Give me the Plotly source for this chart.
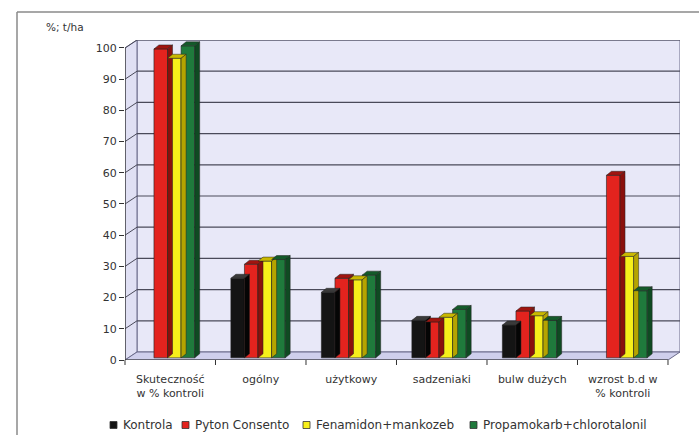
import plotly.graph_objects as go

categories = ["Skuteczność<br>w % kontroli", "ogólny", "użytkowy", "sadzeniaki", "bulw dużych", "wzrost b.d w<br>% kontroli"]
series_names = ["Kontrola", "Pyton Consento", "Fenamidon+mankozeb", "Propamokarb+chlorotalonil"]
kontrola = [None, 25.5, 21, 12, 10.5, None]
pyton = [99, 30, 25.5, 11.5, 15, 58.5]
fenamidon = [96, 31, 25, 13, 13.5, 32.5]
propamokarb = [100, 31.5, 26.5, 15.5, 12, 21.5]
y_ticks = [0, 10, 20, 30, 40, 50, 60, 70, 80, 90, 100]

series = [kontrola, pyton, fenamidon, propamokarb]
front_colors = ["#141414", "#e3231e", "#f7ef1a", "#1f7a3c"]
top_colors = ["#3a3a3a", "#a0140f", "#c9b800", "#145a2a"]
side_colors = ["#050505", "#8a100c", "#b5a400", "#0f4a22"]

FONT = "DejaVu Sans, Verdana, sans-serif"

# geometry (styling)
W, H = 699, 435
L, R, T, B = 125, 19, 40, 75
PW = W - L - R
xspan = 6.1326
px_per_unit_x = PW / xspan
plot_h = H - T - B
ymax = 102.56
px_per_unit_y = plot_h / ymax
wall_dx = 12 / px_per_unit_x
wall_dy = 8 / px_per_unit_y
bar_dx = 5 / px_per_unit_x
bar_dy = 4 / px_per_unit_y
bar_w = 0.15
first_off = -0.33
base = 0.7
x0, x1 = -0.5, 5.5


def px2paper_x(px):
    return (px - L) / PW


def py2paper_y(py):
    return (H - B - py) / plot_h


fig = go.Figure()
xs = list(range(len(categories)))
shapes = []
annotations = []

lav = "#e8e8f8"
shapes.append(dict(type="rect", xref="x", yref="y", x0=x0 + wall_dx, x1=x1 + wall_dx, y0=wall_dy, y1=100 + wall_dy,
                   fillcolor=lav, line=dict(color="#6a6a8a", width=1), layer="below"))
shapes.append(dict(type="path", xref="x", yref="y",
                   path=f"M {x0},0 L {x0},100 L {x0+wall_dx},{100+wall_dy} L {x0+wall_dx},{wall_dy} Z",
                   fillcolor="#e0e0f4", line=dict(color="#6a6a8a", width=1), layer="below"))
shapes.append(dict(type="path", xref="x", yref="y",
                   path=f"M {x0},0 L {x1},0 L {x1+wall_dx},{wall_dy} L {x0+wall_dx},{wall_dy} Z",
                   fillcolor="#cfcfec", line=dict(color="#6a6a8a", width=1), layer="below"))
for v in y_ticks[1:]:
    shapes.append(dict(type="line", xref="x", yref="y", x0=x0 + wall_dx, x1=x1 + wall_dx, y0=v + wall_dy, y1=v + wall_dy,
                       line=dict(color="#4a4a5a", width=1.2), layer="below"))
    shapes.append(dict(type="line", xref="x", yref="y", x0=x0, x1=x0 + wall_dx, y0=v, y1=v + wall_dy,
                       line=dict(color="#4a4a5a", width=1), layer="below"))
shapes.append(dict(type="line", xref="x", yref="y", x0=x0, x1=x0, y0=0, y1=100, line=dict(color="#333", width=1.2)))
shapes.append(dict(type="line", xref="x", yref="y", x0=x0, x1=x1, y0=0, y1=0, line=dict(color="#333", width=1.2)))
for k in range(len(categories) + 1):
    xv = k / xspan
    shapes.append(dict(type="line", xref="paper", yref="paper", x0=xv, x1=xv, y0=0, y1=-5 / plot_h,
                       line=dict(color="#333", width=1)))

for k, (name, vals) in enumerate(zip(series_names, series)):
    off = first_off + k * bar_w
    fig.add_trace(go.Bar(
        name=name, x=xs, y=vals, base=base, offset=off, width=bar_w, showlegend=False,
        marker=dict(color=front_colors[k], line=dict(color="#222", width=0.6)),
    ))
    for i, v in enumerate(vals):
        if v is None:
            continue
        bx0 = i + off
        bx1 = bx0 + bar_w
        top = base + v
        shapes.append(dict(type="path", xref="x", yref="y",
                           path=f"M {bx0},{top} L {bx1},{top} L {bx1+bar_dx},{top+bar_dy} L {bx0+bar_dx},{top+bar_dy} Z",
                           fillcolor=top_colors[k], line=dict(color="#222", width=0.5)))
        shapes.append(dict(type="path", xref="x", yref="y",
                           path=f"M {bx1},{base} L {bx1+bar_dx},{base+bar_dy} L {bx1+bar_dx},{top+bar_dy} L {bx1},{top} Z",
                           fillcolor=side_colors[k], line=dict(color="#222", width=0.5)))

# custom legend
leg_y = 425
leg_sq_x = [110, 182, 303, 470]
for k, name in enumerate(series_names):
    sx = leg_sq_x[k]
    shapes.append(dict(type="rect", xref="paper", yref="paper",
                       x0=px2paper_x(sx), x1=px2paper_x(sx + 7), y0=py2paper_y(leg_y + 3.5), y1=py2paper_y(leg_y - 3.5),
                       fillcolor=front_colors[k], line=dict(color="#333", width=0.8)))
    annotations.append(dict(text=name, xref="paper", yref="paper", x=px2paper_x(sx + 11), y=py2paper_y(leg_y),
                            xanchor="left", yanchor="middle", showarrow=False, font=dict(size=12, color="#333")))

# outer frame
fy_top = py2paper_y(12)
fx_left = px2paper_x(17)
shapes.append(dict(type="line", xref="paper", yref="paper", x0=fx_left, x1=1.05, y0=fy_top, y1=fy_top,
                   line=dict(color="#8a8a8a", width=1.5)))
shapes.append(dict(type="line", xref="paper", yref="paper", x0=fx_left, x1=fx_left, y0=fy_top, y1=-0.3,
                   line=dict(color="#8a8a8a", width=1.5)))

annotations.append(dict(text="%; t/ha", xref="paper", yref="paper", x=px2paper_x(65), y=py2paper_y(27),
                        xanchor="center", yanchor="middle",
                        showarrow=False, font=dict(size=10.5, color="#333")))

fig.update_layout(
    width=W, height=H,
    margin=dict(l=L, r=R, t=T, b=B),
    paper_bgcolor="white", plot_bgcolor="white",
    font=dict(family=FONT, size=11, color="#333"),
    barmode="overlay",
    showlegend=False,
    xaxis=dict(range=[-0.5, -0.5 + xspan], tickmode="array", tickvals=xs, ticktext=categories, showgrid=False,
               zeroline=False, showline=False, ticks="", ticklabelstandoff=11, fixedrange=True),
    yaxis=dict(range=[0, ymax], tickmode="array", tickvals=y_ticks, showgrid=False, zeroline=False,
               showline=False, ticks="outside", ticklen=5, tickcolor="#333", fixedrange=True),
    shapes=shapes,
    annotations=annotations,
)

fig.write_html("out.html")
